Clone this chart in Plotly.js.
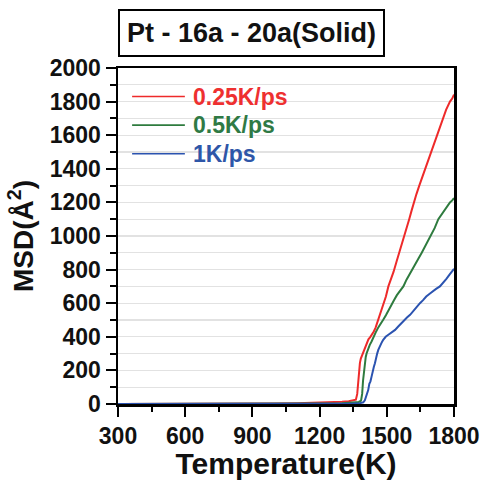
<!DOCTYPE html>
<html>
<head>
<meta charset="utf-8">
<script src="https://cdn.plot.ly/plotly-3.0.1.min.js"></script>
<style>html,body{margin:0;padding:0;background:#fff}#chart{width:483px;height:480px}</style>
</head>
<body>
<div id="chart"></div>
<script>
var seriesNames = ['0.25K/ps', '0.5K/ps', '1K/ps'];
var lineColors = ['#ee2a2a', '#2e7b3e', '#2b53b0'];
var textColors = ['#ee3030', '#2f7a45', '#2e56a8'];

var tRed = [300, 500, 700, 900, 1000, 1100, 1200, 1250, 1300, 1330, 1350, 1362, 1368, 1372, 1376, 1380, 1384, 1390, 1396, 1402, 1410, 1418, 1426, 1434, 1442, 1450, 1462, 1474, 1486, 1496, 1507, 1518, 1530, 1543, 1556, 1568, 1580, 1590, 1600, 1610, 1620, 1632, 1645, 1657, 1670, 1684, 1697, 1710, 1723, 1737, 1750, 1765, 1782, 1792, 1800];
var msdRed = [0, 0, 1, 2, 3, 5, 8, 10, 14, 17, 20, 26, 60, 130, 200, 245, 270, 292, 310, 335, 362, 385, 398, 412, 432, 455, 500, 548, 592, 640, 700, 738, 786, 845, 900, 950, 1008, 1055, 1100, 1148, 1200, 1248, 1300, 1345, 1400, 1450, 1498, 1548, 1600, 1655, 1700, 1752, 1800, 1818, 1842];

var tGreen = [300, 500, 700, 900, 1100, 1200, 1300, 1350, 1375, 1385, 1390, 1394, 1398, 1402, 1406, 1410, 1416, 1424, 1432, 1440, 1450, 1462, 1474, 1484, 1496, 1508, 1520, 1532, 1545, 1560, 1574, 1588, 1602, 1615, 1628, 1642, 1656, 1670, 1684, 1698, 1714, 1730, 1745, 1758, 1770, 1782, 1792, 1800];
var msdGreen = [0, 0, 0, 1, 2, 3, 5, 8, 12, 20, 60, 140, 200, 250, 280, 302, 330, 352, 372, 401, 425, 456, 478, 501, 528, 560, 590, 618, 648, 676, 700, 740, 775, 810, 842, 868, 900, 935, 965, 1000, 1048, 1100, 1130, 1155, 1178, 1200, 1212, 1226];

var tBlue = [300, 500, 700, 900, 1100, 1200, 1300, 1350, 1380, 1395, 1402, 1408, 1413, 1417, 1422, 1427, 1432, 1437, 1442, 1447, 1452, 1457, 1462, 1470, 1478, 1484, 1495, 1507, 1520, 1529, 1537, 1550, 1563, 1577, 1590, 1604, 1618, 1632, 1648, 1662, 1676, 1690, 1705, 1720, 1737, 1752, 1766, 1780, 1795, 1800];
var msdBlue = [0, 0, 0, 0, 1, 1, 2, 3, 5, 10, 22, 45, 70, 83, 120, 135, 163, 200, 220, 243, 280, 300, 322, 350, 368, 382, 400, 412, 425, 431, 441, 460, 480, 500, 515, 531, 555, 575, 600, 618, 640, 655, 672, 685, 700, 722, 745, 770, 800, 805];

var xTickVals = [300, 600, 900, 1200, 1500, 1800];
var yTickVals = [0, 200, 400, 600, 800, 1000, 1200, 1400, 1600, 1800, 2000];

var titleText = 'Pt - 16a - 20a(Solid)';
var xTitle = 'Temperature(K)';
var yTitle = 'MSD(Å<sup>2</sup>)';

var xs = [tRed, tGreen, tBlue];
var ys = [msdRed, msdGreen, msdBlue];
var FONT = 'Liberation Sans, Arial, Helvetica, sans-serif';

var traces = xs.map(function (x, i) {
  return {
    x: x, y: ys[i], type: 'scatter', mode: 'lines',
    name: seriesNames[i], showlegend: false,
    line: {color: lineColors[i], width: 2}
  };
});

/* in-plot legend: a short line and a coloured label per series */
var legendRowsY = [0.915, 0.830, 0.745];
var legendShapes = seriesNames.map(function (n, i) {
  return {type: 'line', xref: 'paper', yref: 'paper',
          x0: 0.042, x1: 0.199, y0: legendRowsY[i], y1: legendRowsY[i],
          line: {color: lineColors[i], width: 1.6}};
});
var legendLabels = seriesNames.map(function (n, i) {
  return {text: n, xref: 'paper', yref: 'paper', x: 0.218, y: legendRowsY[i],
          xanchor: 'left', yanchor: 'middle', showarrow: false,
          font: {family: FONT, size: 23, color: textColors[i], weight: 'bold'}};
});

var axisCommon = {
  showline: true, linecolor: '#000', linewidth: 2.5, mirror: true,
  ticks: 'outside', ticklen: 10, tickwidth: 2, tickcolor: '#000',
  tickfont: {family: FONT, size: 23, color: '#111', weight: 'bold'},
  zeroline: false
};

var layout = {
  width: 483, height: 480,
  margin: {l: 118, r: 29, t: 68, b: 76},
  paper_bgcolor: '#fff', plot_bgcolor: '#fff',
  showlegend: false,
  xaxis: Object.assign({}, axisCommon, {
    range: [300, 1800], tickvals: xTickVals, showgrid: false,
    minor: {ticks: 'outside', dtick: 150, tick0: 300, ticklen: 5, tickwidth: 2, tickcolor: '#000', showgrid: false},
    title: {text: xTitle, font: {family: FONT, size: 30, color: '#111', weight: 'bold'}, standoff: 5}
  }),
  yaxis: Object.assign({}, axisCommon, {
    range: [0, 2000], tickvals: yTickVals, showgrid: true, gridcolor: '#e2e2e2', gridwidth: 1.2,
    minor: {ticks: 'outside', dtick: 100, tick0: 0, ticklen: 6, tickwidth: 2, tickcolor: '#000', showgrid: true, gridcolor: '#e2e2e2', gridwidth: 1.2},
    title: {text: yTitle, font: {family: FONT, size: 28, color: '#111', weight: 'bold'}, standoff: 8}
  }),
  shapes: legendShapes,
  annotations: [{
    text: titleText, xref: 'paper', yref: 'paper', x: 0.397, y: 1.103,
    xanchor: 'center', yanchor: 'middle', showarrow: false,
    font: {family: FONT, size: 27, color: '#111', weight: 'bold'},
    bordercolor: '#000', borderwidth: 2, borderpad: 7, bgcolor: '#fff'
  }].concat(legendLabels)
};

Plotly.newPlot('chart', traces, layout, {displayModeBar: false, staticPlot: true});
</script>
</body>
</html>
